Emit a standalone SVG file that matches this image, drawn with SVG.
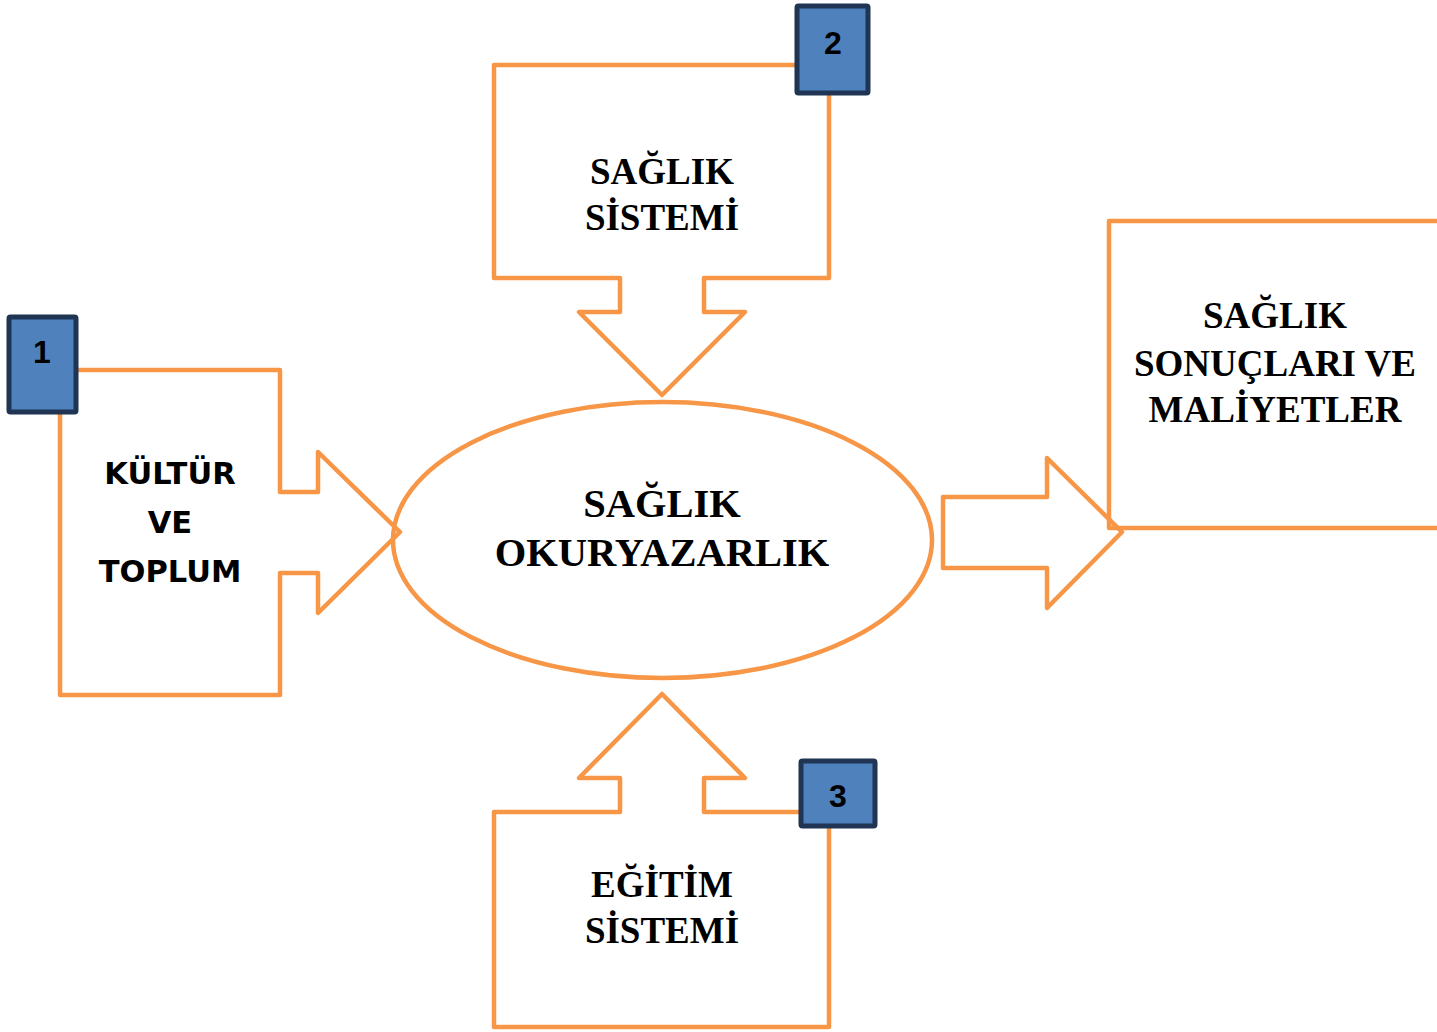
<svg xmlns="http://www.w3.org/2000/svg" width="1437" height="1032" viewBox="0 0 1437 1032">
<style>
.o{fill:none;stroke:#f79646;stroke-width:4.5;stroke-linejoin:round}
.b{fill:#4f81bd;stroke:#1f3553;stroke-width:5}
.n{font-family:"Liberation Sans",Arial,sans-serif;font-weight:bold;font-size:32px;fill:#000;text-anchor:middle}
.s{font-family:"Liberation Serif","Times New Roman",serif;font-weight:bold;font-size:37px;fill:#000;text-anchor:middle}
.s.l{font-size:40.5px}
.k{font-family:"DejaVu Sans",sans-serif;font-weight:bold;font-size:30.5px;fill:#000;text-anchor:middle}
</style>
<rect width="1437" height="1032" fill="#fff"/>
<g id="connectors"></g>
<g id="center">
<ellipse class="o" cx="662.5" cy="540" rx="269.5" ry="138"/>
<text class="s l" x="662" y="517">SAĞLIK</text>
<text class="s l" x="662" y="566">OKURYAZARLIK</text>
</g>
<g id="kultur">
<path class="o" d="M60,370 H280 V492 H318 V452 L400,532 L318,613 V573 H280 V695 H60 Z"/>
<text class="k" x="170" y="484">KÜLTÜR</text>
<text class="k" x="170" y="533">VE</text>
<text class="k" x="170" y="582">TOPLUM</text>
</g>
<g id="badge1">
<rect class="b" x="9" y="317" width="67" height="95" rx="1.5"/>
<text class="n" x="42" y="363">1</text>
</g>
<g id="saglik-sistemi">
<path class="o" d="M494,65 H829 V278 H704 V312 H745 L662,395 L579,312 H620 V278 H494 Z"/>
<text class="s" x="662" y="184">SAĞLIK</text>
<text class="s" x="662" y="230">SİSTEMİ</text>
</g>
<g id="badge2">
<rect class="b" x="797" y="6" width="71" height="87" rx="1.5"/>
<text class="n" x="833" y="54">2</text>
</g>
<g id="egitim-sistemi">
<path class="o" d="M494,812 H620 V778 H579 L662,694 L745,778 H704 V812 H829 V1027 H494 Z"/>
<text class="s" x="662" y="897">EĞİTİM</text>
<text class="s" x="662" y="943">SİSTEMİ</text>
</g>
<g id="badge3">
<rect class="b" x="801" y="761" width="74" height="65" rx="1.5"/>
<text class="n" x="838" y="807">3</text>
</g>
<g id="sonuclar">
<path class="o" d="M1445,221 H1109 V528 H1445"/>
<text class="s" x="1275" y="328">SAĞLIK</text>
<text class="s" x="1275" y="376">SONUÇLARI VE</text>
<text class="s" x="1275" y="422">MALİYETLER</text>
</g>
<g id="arrow-right">
<path class="o" d="M943,497 H1047 V458 L1122,532 L1047,608 V568 H943 Z"/>
</g>
</svg>
